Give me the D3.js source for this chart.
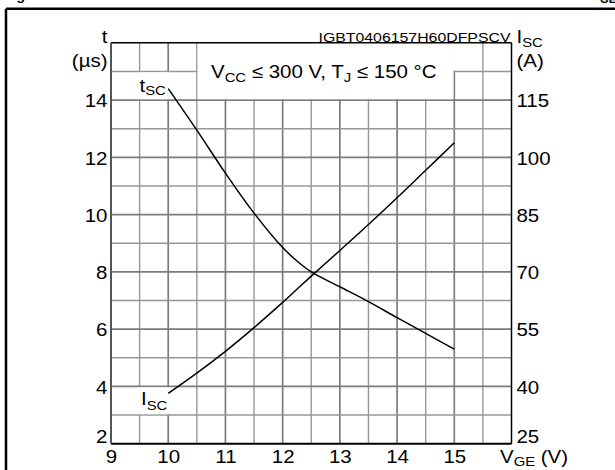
<!DOCTYPE html>
<html><head><meta charset="utf-8">
<script src="https://cdn.jsdelivr.net/npm/d3@7"></script>
<style>
body{margin:0;background:#fff}
svg text{font-family:"Liberation Sans",Arial,Helvetica,sans-serif;fill:#000}
</style>
</head><body>
<svg id="c" width="615" height="470"></svg>
<script>
// ---- data ----
const vge = [10, 10.5, 11, 11.5, 12, 12.25, 12.5, 13, 13.5, 14, 14.5, 15];
const tscUs = [14.40, 12.95, 11.45, 10.05, 8.85, 8.38, 8.0, 7.48, 6.96, 6.40, 5.85, 5.30];
const iscA = [38.2, 43.5, 49.2, 55.4, 62.0, 65.45, 68.9, 75.6, 82.4, 89.4, 96.6, 103.8];
const xTicks = [9, 10, 11, 12, 13, 14, 15];
const leftTicks = [2, 4, 6, 8, 10, 12, 14];
const rightTicks = [25, 40, 55, 70, 85, 100, 115];
const partNo = "IGBT0406157H60DFPSCV";
const condition = [["V", 0], ["CC", 1], [" \u2264 300 V, T", 0], ["J", 1], [" \u2264 150 \u00B0C", 0]];

const SX = 1.1;      // horizontal glyph stretch of reference font
const FS = 18.6;     // main font size
const SUB = 13.5;    // subscript size

const svg = d3.select("#c");
svg.append("rect").attr("width", 615).attr("height", 470).attr("fill", "#fff");

const x = d3.scaleLinear().domain([9, 16]).range([111, 511.5]);
const yL = d3.scaleLinear().domain([2, 16]).range([443.7, 42.8]);
const yR = d3.scaleLinear().domain([25, 130]).range([443.7, 42.8]);

// outer frame
svg.append("line").attr("x1", 6).attr("x2", 6).attr("y1", 8.7).attr("y2", 470).attr("stroke", "#000").attr("stroke-width", 2.5);
svg.append("line").attr("x1", 6).attr("x2", 615).attr("y1", 8.7).attr("y2", 8.7).attr("stroke", "#000").attr("stroke-width", 2.5);

// clipped title fragments (as in the reference, only their lower edge shows)
svg.append("text").attr("x", 4).attr("y", -0.5).attr("font-size", 14).attr("font-weight", "bold").text("Figure 10.");
const tt = svg.append("text").attr("x", 616).attr("y", -2).attr("text-anchor", "end").attr("font-size", 14).attr("font-weight", "bold");
tt.append("tspan").text("V");
tt.append("tspan").attr("font-size", 11).attr("dy", 5).text("GE");

// grid
const gx = d3.range(9.5, 16, 0.5);
const gy = d3.range(3, 16, 1);
const grid = svg.append("g");
grid.selectAll("line.v").data(gx).join("line")
  .attr("x1", d => x(d)).attr("x2", d => x(d)).attr("y1", yL(16)).attr("y2", yL(2))
  .attr("stroke", d => Number.isInteger(d) ? "#7c7c7c" : "#979797")
  .attr("stroke-width", d => Number.isInteger(d) ? 1.7 : 1.4);
grid.selectAll("line.h").data(gy).join("line")
  .attr("y1", d => yL(d)).attr("y2", d => yL(d)).attr("x1", x(9)).attr("x2", x(16))
  .attr("stroke", d => d % 2 === 0 ? "#7c7c7c" : "#979797")
  .attr("stroke-width", d => d % 2 === 0 ? 1.7 : 1.4);

// white label boxes
svg.append("rect").attr("x", x(10.5) + 0.9).attr("y", yL(16)).attr("width", x(15) - x(10.5) - 1.8).attr("height", yL(14) - yL(16) - 0.9).attr("fill", "#fff");
svg.append("rect").attr("x", x(15) - 1.5).attr("y", yL(16)).attr("width", 3).attr("height", yL(15) - yL(16) - 0.9).attr("fill", "#fff");
svg.append("rect").attr("x", x(9.5) - 1.5).attr("y", yL(15) + 0.9).attr("width", x(10) - x(9.5) + 3).attr("height", yL(14) - yL(15) - 1.8).attr("fill", "#fff");
svg.append("rect").attr("x", x(9.5) - 1.5).attr("y", yL(4) + 0.9).attr("width", x(10) - x(9.5) + 3).attr("height", yL(3) - yL(4) - 1.8).attr("fill", "#fff");

// plot border
svg.append("line").attr("x1", x(9)).attr("x2", x(16)).attr("y1", yL(16)).attr("y2", yL(16)).attr("stroke", "#000").attr("stroke-width", 1.5);
svg.append("line").attr("x1", x(16)).attr("x2", x(16)).attr("y1", yL(16)).attr("y2", yL(2)).attr("stroke", "#000").attr("stroke-width", 1.5);
svg.append("line").attr("x1", x(9)).attr("x2", x(16)).attr("y1", yL(2)).attr("y2", yL(2)).attr("stroke", "#000").attr("stroke-width", 2);
svg.append("line").attr("x1", x(9)).attr("x2", x(9)).attr("y1", yL(16)).attr("y2", yL(2)).attr("stroke", "#555").attr("stroke-width", 2);

// curves
const lineT = d3.line().x((d, i) => x(vge[i])).y(d => yL(d)).curve(d3.curveCatmullRom.alpha(0.5));
const lineI = d3.line().x((d, i) => x(vge[i])).y(d => yR(d)).curve(d3.curveCatmullRom.alpha(0.5));
svg.append("path").attr("d", lineT(tscUs)).attr("fill", "none").attr("stroke", "#000").attr("stroke-width", 1.5);
svg.append("path").attr("d", lineI(iscA)).attr("fill", "none").attr("stroke", "#000").attr("stroke-width", 1.5);

// axes
function styleAxis(g) {
  g.select(".domain").remove();
  g.selectAll(".tick line").remove();
  g.selectAll("text").attr("font-size", FS).attr("font-family", "Liberation Sans, Arial, sans-serif").attr("fill", "#000");
}
const ax = svg.append("g").attr("transform", `translate(0,${yL(2)})`)
  .call(d3.axisBottom(x).tickValues(xTicks).tickSize(0).tickPadding(6.5).tickFormat(d3.format("d")));
styleAxis(ax);
ax.selectAll("text").attr("transform", `scale(${SX},1)`);

const al = svg.append("g").attr("transform", `translate(${x(9)},0)`)
  .call(d3.axisLeft(yL).tickValues(leftTicks).tickSize(0).tickPadding(3.5).tickFormat(d3.format("d")));
styleAxis(al);
al.selectAll("text").attr("x", -3.5 / SX).attr("transform", `scale(${SX},1)`)
  .attr("dy", d => d === 2 ? "-0.05em" : "0.36em");

const ar = svg.append("g").attr("transform", `translate(${x(16)},0)`)
  .call(d3.axisRight(yR).tickValues(rightTicks).tickSize(0).tickPadding(5).tickFormat(d3.format("d")));
styleAxis(ar);
ar.selectAll("text").attr("x", 5 / SX).attr("transform", `scale(${SX},1)`)
  .attr("dy", d => d === 25 ? "-0.05em" : "0.36em");

// text helper: parts [[str, isSub]]
function label(px, py, parts, anchor, size, sub, subDy) {
  const g = svg.append("g").attr("transform", `translate(${px},${py}) scale(${SX},1)`);
  const t = g.append("text").attr("text-anchor", anchor || "start").attr("font-size", size || FS);
  let prevSub = false;
  parts.forEach(([s, isSub]) => {
    const sp = t.append("tspan").text(s);
    if (isSub && !prevSub) sp.attr("dy", subDy).attr("font-size", sub || SUB);
    else if (!isSub && prevSub) sp.attr("dy", -subDy);
    else if (isSub) sp.attr("font-size", sub || SUB);
    prevSub = isSub;
  });
  return t;
}

label(107.5, 43, [["t", 0]], "end");
label(107.5, 66.5, [["(\u00B5s)", 0]], "end");
label(516.5, 43, [["I", 0], ["SC", 1]], "start", FS, SUB, 3.6);
label(516.5, 67, [["(A)", 0]], "start");
label(139.5, 91.5, [["t", 0], ["SC", 1]], "start", FS, SUB, 3.6);
label(141, 405, [["I", 0], ["SC", 1]], "start", FS, SUB, 4.5);
label(500, 463, [["V", 0], ["GE", 1], [" (V)", 0]], "start", FS, SUB, 3);
label(211, 78, condition, "start", FS, SUB, 4);

svg.append("text").attr("x", 510.5).attr("y", 41.7).attr("text-anchor", "end")
  .attr("font-size", 12.5).attr("fill", "#222")
  .attr("textLength", 192).attr("lengthAdjust", "spacingAndGlyphs").text(partNo);
</script>
</body></html>
